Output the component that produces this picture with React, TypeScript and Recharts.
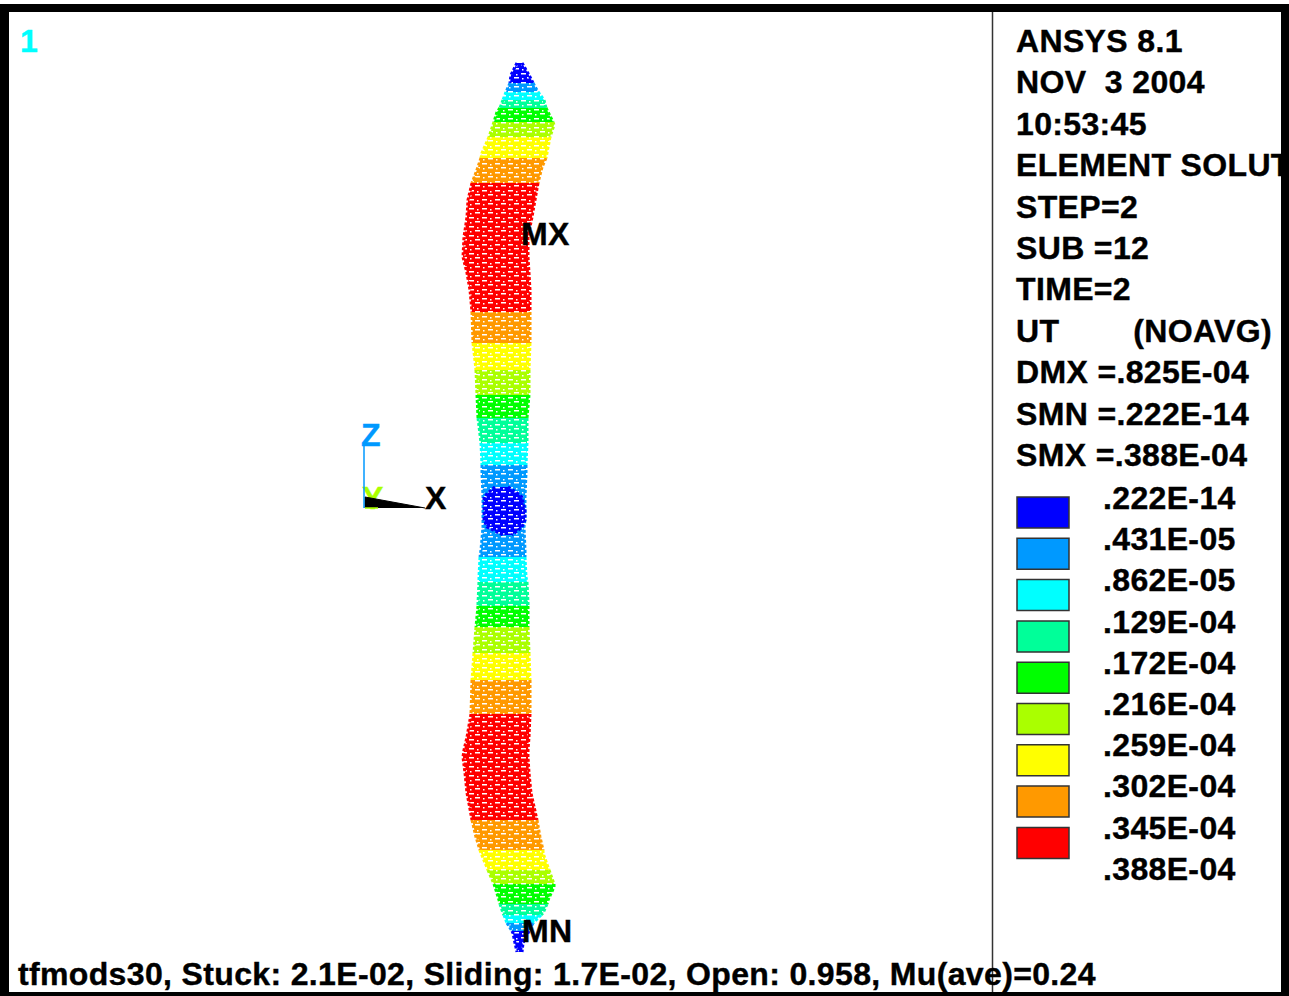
import { ComposedChart, Area, XAxis, YAxis, ReferenceArea, ReferenceLine } from "recharts";

type Row = [number, number, number];

const BLUE = "#0000ff";
const SKY = "#0099ff";
const CYAN = "#00ffff";
const AQUA = "#00ff99";
const GREEN = "#00ff00";
const LIME = "#aaff00";
const YELLOW = "#ffff00";
const ORANGE = "#ff9900";
const RED = "#ff0000";

const legendColors = [BLUE, SKY, CYAN, AQUA, GREEN, LIME, YELLOW, ORANGE, RED];
const legendLabels = [".222E-14", ".431E-05", ".862E-05", ".129E-04", ".172E-04", ".216E-04", ".259E-04", ".302E-04", ".345E-04", ".388E-04"];
const infoLines = ["ANSYS 8.1", "NOV  3 2004", "10:53:45", "ELEMENT SOLUT", "STEP=2", "SUB =12", "TIME=2", "UT        (NOAVG)", "DMX =.825E-04", "SMN =.222E-14", "SMX =.388E-04"];
const footer = "tfmods30, Stuck: 2.1E-02, Sliding: 1.7E-02, Open: 0.958, Mu(ave)=0.24";

// y, left edge, right edge of each contour band, top to bottom
const tipBlue: Row[] = [[63, 517, 522], [75, 511, 529], [83, 510, 533]];
const tipSky: Row[] = [[83, 510, 533], [92, 506, 538]];
const tipCyan: Row[] = [[92, 506, 538], [100, 503, 544]];
const tipAqua: Row[] = [[100, 503, 544], [108, 500, 546]];
const tipGreen: Row[] = [[108, 500, 546], [112, 497, 548], [122, 494, 553]];
const tipLime: Row[] = [[122, 494, 553], [125, 493, 554], [137, 489, 550]];
const tipYellow: Row[] = [[137, 489, 550], [153, 482, 547], [158, 481, 546]];
const topOrange: Row[] = [[158, 481, 546], [167, 478, 542], [183, 472, 538]];
const topRed: Row[] = [[183, 472, 538], [200, 468, 535], [217, 467, 532], [237, 464, 528], [257, 463, 528], [273, 467, 529], [290, 470, 530], [312, 472, 530]];
const upOrange: Row[] = [[312, 472, 530], [343, 473, 530]];
const upYellow: Row[] = [[343, 473, 530], [370, 476, 529]];
const upLime: Row[] = [[370, 476, 529], [395, 477, 529]];
const upGreen: Row[] = [[395, 477, 529], [418, 478, 527]];
const upAqua: Row[] = [[418, 478, 527], [443, 481, 527]];
const upCyan: Row[] = [[443, 481, 527], [465, 482, 526]];
const midSky: Row[] = [[465, 482, 526], [473, 482, 526], [497, 483, 525], [520, 483, 525], [527, 483, 524], [550, 481, 525], [557, 480, 525]];
const midBlue: Row[] = [[487, 495, 508], [492, 489, 516], [497, 484, 522], [510, 484, 525], [520, 484, 525], [527, 487, 522], [535, 503, 512]];
const lowCyan: Row[] = [[557, 480, 525], [577, 479, 526], [582, 479, 527]];
const lowAqua: Row[] = [[582, 479, 527], [603, 478, 528], [606, 478, 528]];
const lowGreen: Row[] = [[606, 478, 528], [627, 476, 528]];
const lowLime: Row[] = [[627, 476, 528], [653, 474, 529]];
const lowYellow: Row[] = [[653, 474, 529], [680, 472, 530]];
const lowOrange: Row[] = [[680, 472, 530], [714, 471, 530]];
const lowRed: Row[] = [[714, 471, 530], [737, 467, 529], [750, 464, 528], [757, 463, 528], [773, 465, 529], [793, 467, 531], [820, 472, 537]];
const botOrange: Row[] = [[820, 472, 537], [837, 476, 540], [850, 480, 543]];
const botYellow: Row[] = [[850, 480, 543], [853, 481, 543], [870, 488, 549]];
const botLime: Row[] = [[870, 488, 549], [884, 494, 554]];
const botGreen: Row[] = [[884, 494, 554], [887, 495, 554], [900, 499, 548], [904, 500, 547]];
const botAqua: Row[] = [[904, 500, 547], [913, 503, 543], [915, 504, 541]];
const botCyan: Row[] = [[915, 504, 541], [923, 507, 533]];
const botSky: Row[] = [[923, 507, 533], [931, 512, 529]];
const botBlue: Row[] = [[931, 512, 529], [933, 513, 528], [943, 515, 523], [952, 517, 522]];

const triadWedge: Row[] = [[497, 365, 365], [508, 365, 425]];

const bands: [string, Row[]][] = [
  [BLUE, tipBlue], [SKY, tipSky], [CYAN, tipCyan], [AQUA, tipAqua], [GREEN, tipGreen], [LIME, tipLime], [YELLOW, tipYellow],
  [ORANGE, topOrange], [RED, topRed], [ORANGE, upOrange], [YELLOW, upYellow], [LIME, upLime], [GREEN, upGreen], [AQUA, upAqua], [CYAN, upCyan],
  [SKY, midSky], [BLUE, midBlue],
  [CYAN, lowCyan], [AQUA, lowAqua], [GREEN, lowGreen], [LIME, lowLime], [YELLOW, lowYellow], [ORANGE, lowOrange], [RED, lowRed],
  [ORANGE, botOrange], [YELLOW, botYellow], [LIME, botLime], [GREEN, botGreen], [AQUA, botAqua], [CYAN, botCyan], [SKY, botSky], [BLUE, botBlue],
];

const toRows = (rows: Row[]) => rows.map(([y, left, right]) => ({ y, range: [left, right] }));

const textStyle: React.CSSProperties = {
  position: "absolute",
  fontFamily: "'Liberation Sans', Arial, sans-serif",
  fontWeight: 700,
  fontSize: 32,
  lineHeight: "36px",
  whiteSpace: "pre",
  letterSpacing: 0.35,
  WebkitTextStroke: "0.4px currentColor",
  color: "#000",
};

function Txt({ x, y, color, children }: { x: number; y: number; color?: string; children: string }) {
  return <div style={{ ...textStyle, left: x, top: y - 18, color: color ?? "#000" }}>{children}</div>;
}

export default function App() {
  return (
    <div style={{ position: "absolute", left: 0, top: 0, width: 1289, height: 996, overflow: "hidden", background: "#fff" }}>
      <Txt x={362} y={498} color={LIME}>Y</Txt>
      <div style={{ position: "absolute", left: 0, top: 0 }}>
        <ComposedChart width={1289} height={996} layout="vertical" margin={{ top: 0, right: 0, bottom: 0, left: 0 }}>
          <defs>
            {legendColors.map((c, i) => (
              <pattern key={c} id={`mesh-${i}`} width={13} height={9} patternUnits="userSpaceOnUse">
                <rect width={13} height={9} fill={c} />
                <rect x={1} y={1} width={5} height={1.5} fill="#fff" />
                <rect x={9} y={2} width={1.5} height={1.5} fill="#fff" />
                <rect x={7} y={5} width={5} height={1.5} fill="#fff" />
                <rect x={2} y={6} width={1.5} height={1.5} fill="#fff" />
              </pattern>
            ))}
          </defs>
          <XAxis type="number" hide domain={[0, 1289]} allowDataOverflow />
          <YAxis type="number" dataKey="y" hide domain={[0, 996]} allowDataOverflow />
          {bands.map(([color, rows], i) => (
            <Area
              key={i}
              data={toRows(rows)}
              dataKey="range"
              type="linear"
              fill={`url(#mesh-${legendColors.indexOf(color)})`}
              fillOpacity={1}
              stroke={color}
              strokeWidth={3}
              strokeDasharray="3 2"
              dot={false}
              activeDot={false}
              isAnimationActive={false}
            />
          ))}
          <Area data={toRows(triadWedge)} dataKey="range" type="linear" fill="#000" fillOpacity={1} stroke="#000" strokeWidth={1} dot={false} activeDot={false} isAnimationActive={false} />
          <ReferenceLine segment={[{ x: 364, y: 442 }, { x: 364, y: 508 }]} stroke={SKY} strokeWidth={1.5} />
          <ReferenceLine segment={[{ x: 365, y: 508 }, { x: 378, y: 508 }]} stroke={LIME} strokeWidth={1.5} />
          <ReferenceLine segment={[{ x: 992.5, y: 12 }, { x: 992.5, y: 992 }]} stroke="#333" strokeWidth={1.5} />
          {legendColors.map((c, i) => (
            <ReferenceArea key={c} x1={1017} x2={1069} y1={497 + i * 41.3} y2={528 + i * 41.3} fill={c} fillOpacity={1} stroke="#333" strokeWidth={1.5} />
          ))}
        </ComposedChart>
      </div>
      <Txt x={20} y={41} color={CYAN}>1</Txt>
      <Txt x={361} y={435} color={SKY}>Z</Txt>
      <Txt x={425} y={498}>X</Txt>
      <Txt x={521} y={234}>MX</Txt>
      <Txt x={522} y={931}>MN</Txt>
      <div style={{ position: "absolute", left: 993, top: 12, width: 288, height: 480, overflow: "hidden" }}>
        {infoLines.map((line, i) => (
          <Txt key={i} x={23} y={29 + i * 41.4}>{line}</Txt>
        ))}
      </div>
      {legendLabels.map((label, i) => (
        <Txt key={label} x={1103} y={498 + i * 41.2}>{label}</Txt>
      ))}
      <Txt x={18} y={974}>{footer}</Txt>
      <div style={{ position: "absolute", left: 0, top: 4, width: 1289, height: 992, boxSizing: "border-box", borderStyle: "solid", borderColor: "#000", borderWidth: "8px 8px 4px 9px", pointerEvents: "none" }} />
    </div>
  );
}
